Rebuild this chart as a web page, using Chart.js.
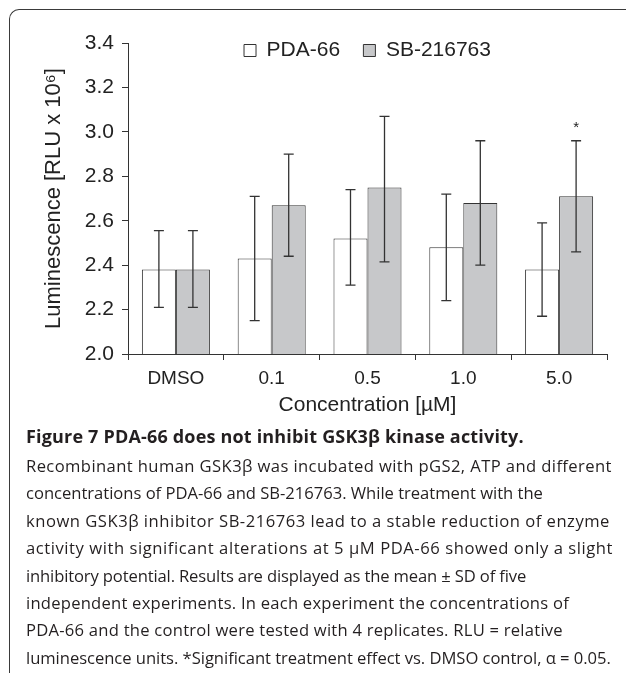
<!DOCTYPE html>
<html>
<head>
<meta charset="utf-8">
<script src="https://cdn.jsdelivr.net/npm/chart.js@4"></script>
<style>
  html, body { margin: 0; padding: 0; background: #fff; }
  body { width: 627px; height: 673px; position: relative; overflow: hidden; }
  #frame {
    position: absolute; left: 9px; top: 9px; width: 616px; height: 700px;
    border-top: 1.5px solid #3a3a3a; border-left: 1.5px solid #3a3a3a;
    border-top-left-radius: 10px; pointer-events: none;
  }
  #chart { position: absolute; left: 0; top: 0; }
  #caption {
    position: absolute; left: 26px; top: 423px; white-space: nowrap;
    font-family: "Open Sans", "Noto Sans", sans-serif; color: #231f20;
  }
  #caption span { display: block; float: left; clear: left; }
  #caption .head { font-weight: bold; font-size: 18px; line-height: 27px; margin-bottom: 2px; }
  #caption .line { font-size: 16.6px; line-height: 27.4px; }
</style>
</head>
<body>
<canvas id="chart" width="627" height="420"></canvas>
<div id="frame"></div>
<div id="caption">
<span class="head" data-right="524">Figure 7 PDA-66 does not inhibit GSK3β kinase activity.</span>
<span class="line" data-right="612">Recombinant human GSK3β was incubated with pGS2, ATP and different</span>
<span class="line" data-right="543">concentrations of PDA-66 and SB-216763. While treatment with the</span>
<span class="line" data-right="610">known GSK3β inhibitor SB-216763 lead to a stable reduction of enzyme</span>
<span class="line" data-right="613">activity with significant alterations at 5 μM PDA-66 showed only a slight</span>
<span class="line" data-right="526">inhibitory potential. Results are displayed as the mean ± SD of five</span>
<span class="line" data-right="569">independent experiments. In each experiment the concentrations of</span>
<span class="line" data-right="563">PDA-66 and the control were tested with 4 replicates. RLU = relative</span>
<span class="line" data-right="611">luminescence units. *Significant treatment effect vs. DMSO control, α = 0.05.</span>
</div>
<script>
var concentrations = ["DMSO", "0.1", "0.5", "1.0", "5.0"];
var pdaMean = [2.38, 2.43, 2.52, 2.48, 2.38];
var pdaLow  = [2.21, 2.15, 2.31, 2.24, 2.17];
var pdaHigh = [2.555, 2.71, 2.74, 2.72, 2.59];
var sbMean  = [2.38, 2.67, 2.75, 2.68, 2.71];
var sbLow   = [2.21, 2.44, 2.415, 2.40, 2.46];
var sbHigh  = [2.555, 2.90, 3.07, 2.96, 2.96];
var sbSignificant = [false, false, false, false, true];

// stretch each caption line to the width it has in the printed figure
document.querySelectorAll("#caption span").forEach(function (el) {
  var target = +el.dataset.right - 26;
  var extra = (target - el.getBoundingClientRect().width) / el.textContent.length;
  el.style.letterSpacing = extra.toFixed(2) + "px";
});

var ink = "#333333";
Chart.defaults.font.family = "'Liberation Sans', Arial, Helvetica, sans-serif";
Chart.defaults.color = "#222222";

// error bars (mean ± SD) and the significance star
var errorBars = {
  id: "errorBars",
  afterDatasetsDraw: function (chart) {
    var ctx = chart.ctx, y = chart.scales.y;
    chart.data.datasets.forEach(function (ds, i) {
      var meta = chart.getDatasetMeta(i);
      meta.data.forEach(function (bar, j) {
        var top = y.getPixelForValue(ds.errHigh[j]);
        var bottom = y.getPixelForValue(ds.errLow[j]);
        ctx.save();
        ctx.strokeStyle = ink;
        ctx.lineWidth = 1.3;
        ctx.beginPath();
        ctx.moveTo(bar.x, top); ctx.lineTo(bar.x, bottom);
        ctx.moveTo(bar.x - 5, top); ctx.lineTo(bar.x + 5, top);
        ctx.moveTo(bar.x - 5, bottom); ctx.lineTo(bar.x + 5, bottom);
        ctx.stroke();
        if (ds.significant && ds.significant[j]) {
          ctx.fillStyle = "#222";
          ctx.font = "15px 'Liberation Sans', Arial";
          ctx.textAlign = "center";
          ctx.textBaseline = "alphabetic";
          ctx.fillText("*", bar.x, top - 9);
        }
        ctx.restore();
      });
    });
  }
};

// the legend sits inside the plot, just under the top tick
var legendInside = {
  id: "legendInside",
  afterLayout: function (chart) {
    chart.legend.top += 28;
    chart.legend.bottom += 28;
  }
};

new Chart("chart", {
  type: "bar",
  data: {
    labels: concentrations,
    datasets: [{
      label: "PDA-66",
      data: pdaMean,
      errLow: pdaLow,
      errHigh: pdaHigh,
      backgroundColor: "#ffffff",
      borderColor: ink,
      borderWidth: 1,
      barPercentage: 1,
      categoryPercentage: 0.71
    }, {
      label: "SB-216763",
      data: sbMean,
      errLow: sbLow,
      errHigh: sbHigh,
      significant: sbSignificant,
      backgroundColor: "#c7c8ca",
      borderColor: ink,
      borderWidth: 1,
      barPercentage: 1,
      categoryPercentage: 0.71
    }]
  },
  options: {
    responsive: false,
    animation: false,
    layout: { padding: { top: 12, right: 20, left: 0, bottom: 0 } },
    plugins: {
      tooltip: { enabled: false },
      legend: {
        position: "top",
        fullSize: false,
        align: "center",
        labels: {
          boxWidth: 12,
          boxHeight: 12,
          padding: 0,
          font: { size: 21 },
          color: "#222",
          generateLabels: function (chart) {
            var items = Chart.defaults.plugins.legend.labels.generateLabels(chart);
            items[0].text = items[0].text + "    ";
            return items;
          }
        }
      }
    },
    scales: {
      x: {
        afterFit: function (scale) { scale.height = 66; },
        grid: { drawOnChartArea: false, tickLength: 6, color: ink, offset: true },
        border: { color: ink, width: 1 },
        ticks: { font: { size: 19 }, padding: 7, color: "#222" },
        title: {
          display: true,
          text: "Concentration [µM]",
          font: { size: 21 },
          color: "#222",
          padding: { top: 0, bottom: 2 }
        }
      },
      y: {
        min: 2.0,
        max: 3.4,
        afterFit: function (scale) { scale.width = 128; },
        grid: { drawOnChartArea: false, tickLength: 6, color: ink },
        border: { color: ink, width: 1 },
        ticks: {
          stepSize: 0.2,
          font: { size: 21 },
          padding: 8,
          color: "#222",
          callback: function (v) { return v.toFixed(1); }
        },
        title: {
          display: true,
          text: "Luminescence [RLU x 10⁶]",
          font: { size: 22 },
          color: "#222",
          padding: { top: 41, bottom: 0 }
        }
      }
    }
  },
  plugins: [errorBars, legendInside]
});
</script>
</body>
</html>
